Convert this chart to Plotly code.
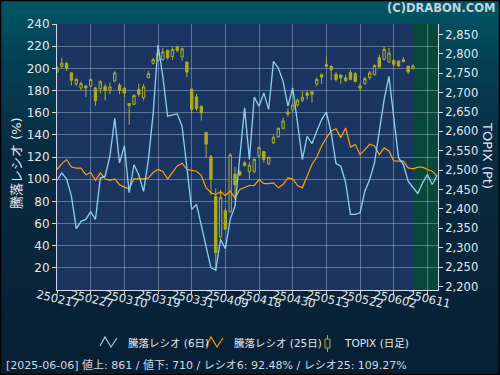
import plotly.graph_objects as go

# ---------------- data ----------------
trade_dates = [
    "250217", "250218", "250219", "250220", "250221", "250225", "250226", "250227", "250228",
    "250303", "250304", "250305", "250306", "250307", "250310", "250311", "250312", "250313",
    "250314", "250317", "250318", "250319", "250321", "250324", "250325", "250326", "250327",
    "250328", "250331",
    "250401", "250402", "250403", "250404", "250407", "250408", "250409", "250410", "250411",
    "250414", "250415", "250416", "250417", "250418", "250421", "250422", "250423", "250424",
    "250425", "250428", "250430",
    "250501", "250502", "250507", "250508", "250509", "250512", "250513", "250514", "250515",
    "250516", "250519", "250520", "250521", "250522", "250523", "250526", "250527", "250528",
    "250529", "250530",
    "250602", "250603", "250604", "250605", "250606",
]

tick_labels = ["250217", "250227", "250310", "250319", "250331", "250409",
               "250418", "250430", "250513", "250522", "250602", "250611"]
tick_index = [0, 7, 14, 21, 28, 35, 42, 49, 56, 63, 70, 77]

topix_open = [2753, 2768, 2775, 2751, 2723, 2712, 2717, 2717, 2712, 2710,
              2716, 2706, 2730, 2719, 2711, 2672, 2670, 2708, 2687, 2739,
              2775, 2784, 2785, 2809, 2793, 2817, 2792, 2779, 2709, 2689,
              2665, 2597, 2535, 2432, 2328, 2395, 2393, 2490, 2496, 2519,
              2496, 2496, 2537, 2548, 2516, 2571, 2586, 2608, 2650, 2657,
              2668, 2680, 2699, 2702, 2722, 2746, 2772, 2768, 2747, 2745,
              2738, 2752, 2749, 2717, 2723, 2739, 2746, 2790, 2786, 2779,
              2783, 2781, 2785, 2768, 2762]
topix_high = [2768, 2790, 2779, 2753, 2739, 2728, 2719, 2736, 2715, 2732,
              2723, 2726, 2755, 2725, 2715, 2673, 2696, 2723, 2722, 2756,
              2790, 2810, 2816, 2811, 2817, 2822, 2816, 2779, 2709, 2697,
              2665, 2599, 2539, 2453, 2449, 2402, 2545, 2509, 2500, 2524,
              2522, 2531, 2561, 2550, 2535, 2590, 2610, 2636, 2659, 2676,
              2685, 2704, 2704, 2703, 2739, 2749, 2793, 2770, 2753, 2748,
              2745, 2759, 2753, 2723, 2740, 2756, 2773, 2798, 2818, 2815,
              2786, 2784, 2792, 2770, 2773]
topix_low = [2751, 2762, 2756, 2719, 2717, 2706, 2689, 2714, 2666, 2698,
             2680, 2696, 2727, 2696, 2689, 2617, 2668, 2689, 2680, 2736,
             2773, 2779, 2783, 2785, 2785, 2804, 2783, 2740, 2646, 2653,
             2628, 2533, 2436, 2239, 2321, 2345, 2389, 2424, 2485, 2509,
             2476, 2492, 2531, 2519, 2513, 2567, 2584, 2605, 2638, 2650,
             2663, 2676, 2682, 2674, 2716, 2722, 2766, 2732, 2728, 2722,
             2727, 2732, 2727, 2704, 2721, 2733, 2744, 2764, 2783, 2777,
             2766, 2766, 2778, 2748, 2760]
topix_close = [2764, 2776, 2763, 2732, 2734, 2723, 2712, 2734, 2679, 2728,
               2706, 2715, 2751, 2706, 2699, 2667, 2693, 2696, 2715, 2749,
               2785, 2800, 2805, 2790, 2811, 2809, 2813, 2753, 2657, 2659,
               2648, 2567, 2477, 2287, 2430, 2348, 2539, 2462, 2488, 2512,
               2513, 2528, 2558, 2528, 2533, 2585, 2608, 2627, 2645, 2668,
               2680, 2687, 2693, 2696, 2734, 2740, 2768, 2759, 2734, 2738,
               2731, 2734, 2729, 2712, 2736, 2751, 2770, 2766, 2811, 2802,
               2773, 2769, 2780, 2753, 2769]

ratio6 = [98.8, 105.7, 100, 84.7, 55.3, 62, 63.7, 70.6, 63.7, 101,
          102.7, 120.7, 155, 114.7, 130, 87.7, 113, 104, 89, 117.7,
          159.8, 221, 192.8, 156.8, 158, 158.9, 147.7, 111.7, 72.7, 77.2,
          59, 39.6, 20, 18, 45.6, 37.2, 63.7, 75.7, 123.7, 164.3,
          117.7, 174, 165.8, 177.8, 162.8, 206.3, 200.3, 188.3, 165.8, 182.3,
          150.8, 117.7, 138.7, 132, 143.2, 153.8, 160.4, 141.7, 114.1, 111.7,
          97, 68.2, 68.2, 69.7, 89.2, 99.7, 114.7, 141.7, 171.8, 192.8,
          153.8, 119.2, 113.2, 98.2, 92.5, 87.1, 96.7, 104.2, 95.2, 103.3]

ratio25 = [108.7, 114, 117.7, 111, 110, 110, 104, 106, 99, 105.7,
           100.3, 99, 100.3, 95, 92.8, 91.3, 100.3, 100.3, 100.3, 101,
           106, 108.7, 107, 100.3, 105.7, 112, 114.4, 108.7, 108, 107.2,
           103.3, 92, 87.7, 86.2, 88.6, 85.3, 89.2, 83.2, 90.7, 92.2,
           94.3, 94.3, 99.7, 96, 96, 96.7, 92.2, 95.2, 101.2, 100.3,
           94.3, 92.2, 102.7, 113.2, 120, 130, 137.2, 143.5, 145.5, 137.5,
           146.2, 129, 131.2, 122.2, 126.7, 131.5, 130, 122.2, 128.2, 125.5,
           116.5, 116.5, 116.2, 110.2, 109.3, 110.8, 110.8, 108.7, 107.2, 102.7]

legend_names = ["騰落レシオ (6日)", "騰落レシオ (25日)", "TOPIX (日足)"]
info_text = "[2025-06-06] 値上: 861 / 値下: 710 / レシオ6: 92.48% / レシオ25: 109.27%"

# ---------------- styling ----------------
W, H = 500, 375
ML, MR, MT, MB = 57, 62, 24, 85
PW, PH = W - ML - MR, H - MT - MB
FONT = "DejaVu Sans, Noto Sans CJK JP, sans-serif"
NAVY = "#1b3562"
GREEN = "#07483a"
OLIVE = "#adad1c"
BLUE = "#8fd0ef"
ORANGE = "#ffa000"
GRID = "rgba(175,190,215,0.45)"
AXC = "#d5dbe4"
TXT = "#e4e8ee"


def px(x):
    return (x - ML) / PW


def py(y):
    return (H - MB - y) / PH


fig = go.Figure()

fig.add_trace(go.Candlestick(
    x=list(range(len(topix_open))), open=topix_open, high=topix_high,
    low=topix_low, close=topix_close, xaxis="x", yaxis="y",
    increasing=dict(line=dict(color=OLIVE, width=1), fillcolor=NAVY),
    decreasing=dict(line=dict(color=OLIVE, width=1), fillcolor=OLIVE),
    whiskerwidth=0, showlegend=False, hoverinfo="skip", name=legend_names[2],
))
fig.add_trace(go.Scatter(
    x=list(range(len(ratio25))), y=ratio25, yaxis="y2", mode="lines",
    line=dict(color=ORANGE, width=1.2), showlegend=False, name=legend_names[1],
))
fig.add_trace(go.Scatter(
    x=list(range(len(ratio6))), y=ratio6, yaxis="y2", mode="lines",
    line=dict(color=BLUE, width=1.3), showlegend=False, name=legend_names[0],
))

# ---------------- background shapes ----------------
shapes = []
stops = [(0, (0, 88, 102)), (60, (3, 64, 84)), (150, (8, 43, 65)), (375, (8, 31, 50))]


def col_at(y):
    for (y0, c0), (y1, c1) in zip(stops[:-1], stops[1:]):
        if y0 <= y <= y1:
            t = (y - y0) / (y1 - y0)
            return tuple(round(a + (b - a) * t) for a, b in zip(c0, c1))
    return stops[-1][1]


n = 50
for i in range(n):
    y0 = H * i / n
    y1 = H * (i + 1) / n + 0.6
    c = col_at((y0 + y1) / 2)
    shapes.append(dict(type="rect", xref="paper", yref="paper", layer="below",
                       x0=px(0), x1=px(W), y0=py(y1), y1=py(y0),
                       fillcolor="rgb(%d,%d,%d)" % c, line=dict(width=0)))
# plot area background
shapes.append(dict(type="rect", xref="paper", yref="paper", layer="below",
                   x0=0, x1=1, y0=0, y1=1, fillcolor=NAVY, line=dict(width=0)))
# future zone
shapes.append(dict(type="rect", xref="x", yref="paper", layer="below",
                   x0=len(topix_open) - 1, x1=79.2, y0=0, y1=1,
                   fillcolor=GREEN, line=dict(width=0)))
# outer border
shapes.append(dict(type="rect", xref="paper", yref="paper", layer="above",
                   x0=px(0.5), x1=px(W - 0.5), y0=py(H - 0.5), y1=py(0.5),
                   line=dict(color="#000000", width=1.5)))


def zig(x0, color):
    pts = [(x0, 346), (x0 + 5, 337), (x0 + 11, 347), (x0 + 17, 338)]
    d = "M " + " L ".join("%f,%f" % (px(a), py(b)) for a, b in pts)
    return dict(type="path", xref="paper", yref="paper", path=d,
                line=dict(color=color, width=1.2))


shapes.append(zig(100, BLUE))
shapes.append(zig(206, ORANGE))
# candle legend icon
shapes.append(dict(type="line", xref="paper", yref="paper", x0=px(327.5), x1=px(327.5),
                   y0=py(335), y1=py(352), line=dict(color=OLIVE, width=1)))
shapes.append(dict(type="rect", xref="paper", yref="paper", x0=px(325), x1=px(330),
                   y0=py(348), y1=py(339), fillcolor="#0c2740",
                   line=dict(color=OLIVE, width=1)))

# ---------------- annotations ----------------
ann = []
for xi, lab in zip(tick_index, tick_labels):
    ann.append(dict(x=xi + 0.3, xref="x", y=py(299), yref="paper", text=lab,
                    showarrow=False, textangle=13, xanchor="center", yanchor="middle",
                    font=dict(family=FONT, size=11.5, color=TXT)))
ann.append(dict(x=px(497), y=py(8), xref="paper", yref="paper", text="<b>(C)DRABON.COM</b>",
                showarrow=False, xanchor="right", yanchor="middle",
                font=dict(family=FONT, size=11.5, color="#c8d1da")))
ann.append(dict(x=px(17), y=py(163), xref="paper", yref="paper", text="騰落レシオ (%)",
                showarrow=False, textangle=-90, xanchor="center", yanchor="middle",
                font=dict(family=FONT, size=13, color=TXT)))
ann.append(dict(x=px(487), y=py(155), xref="paper", yref="paper", text="TOPIX (Pt)",
                showarrow=False, textangle=90, xanchor="center", yanchor="middle",
                font=dict(family=FONT, size=13, color=TXT)))
for xl, name in zip([126, 232, 342], legend_names):
    ann.append(dict(x=px(xl), y=py(343), xref="paper", yref="paper", text=name,
                    showarrow=False, xanchor="left", yanchor="middle",
                    font=dict(family=FONT, size=10.5, color=TXT)))
ann.append(dict(x=px(4), y=py(366), xref="paper", yref="paper", text=info_text,
                showarrow=False, xanchor="left", yanchor="middle",
                font=dict(family=FONT, size=11, color="#d2d8e0")))

fig.update_layout(
    width=W, height=H,
    margin=dict(l=ML, r=MR, t=MT, b=MB, pad=0),
    paper_bgcolor="#08263c", plot_bgcolor="rgba(0,0,0,0)",
    showlegend=False,
    font=dict(family=FONT, color=TXT),
    shapes=shapes, annotations=ann,
    xaxis=dict(range=[0, 79.2], tickmode="array", tickvals=tick_index,
               showticklabels=False, ticks="outside", ticklen=3, tickcolor=AXC,
               showline=True, linecolor=AXC, linewidth=1,
               showgrid=True, gridcolor=GRID, gridwidth=1, zeroline=False,
               rangeslider=dict(visible=False), fixedrange=True),
    yaxis=dict(side="right", range=[2191, 2877], tickmode="array",
               tickvals=list(range(2200, 2851, 50)), tickformat=",",
               ticks="outside", ticklen=4, tickcolor=AXC, showline=True,
               linecolor=AXC, showgrid=False, zeroline=False,
               tickfont=dict(family=FONT, size=11.5, color=TXT)),
    yaxis2=dict(overlaying="y", side="left", range=[0, 240], tickmode="array",
                tickvals=list(range(20, 241, 20)), ticks="outside", ticklen=4,
                tickcolor=AXC, showline=True, linecolor=AXC, showgrid=True,
                gridcolor=GRID, zeroline=False,
                tickfont=dict(family=FONT, size=12, color=TXT)),
)

fig.write_html("out.html", config={"staticPlot": True},
               post_script="document.body.style.margin='0';document.body.style.overflow='hidden';")
